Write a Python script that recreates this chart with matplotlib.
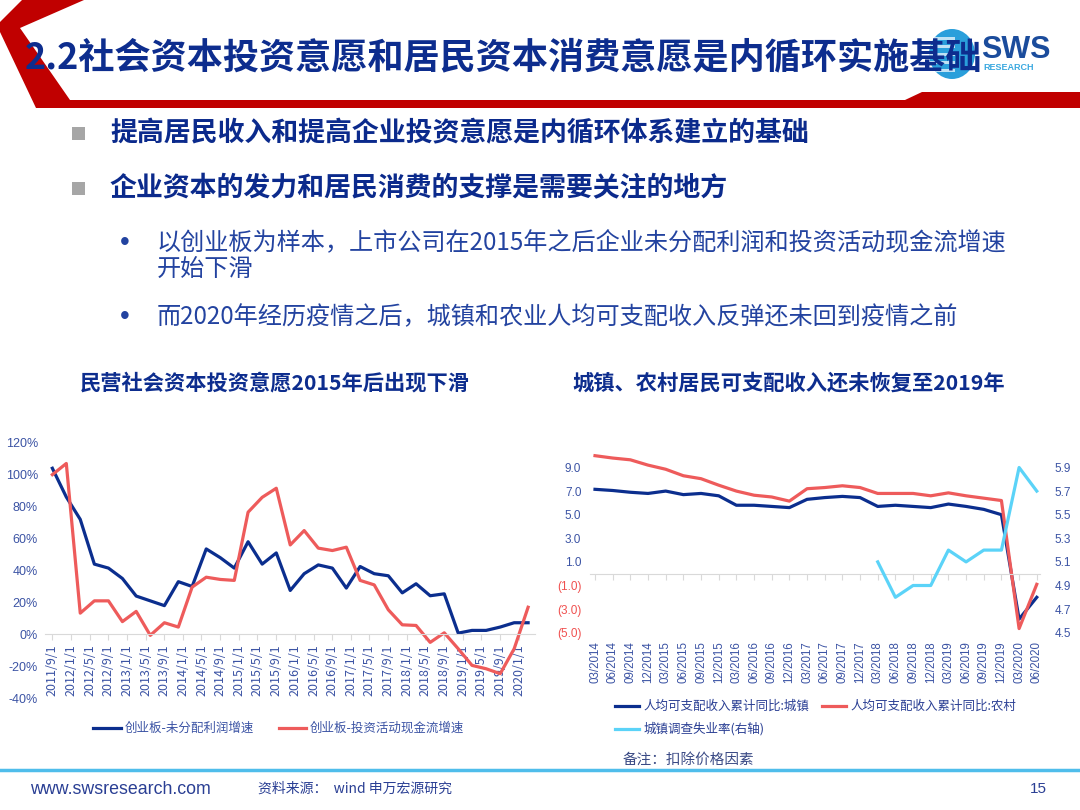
import matplotlib
matplotlib.use('Agg')
import matplotlib.pyplot as plt
from matplotlib.patches import Polygon, Rectangle, Ellipse
from matplotlib.lines import Line2D
import numpy as np
import pandas as pd

CJK = ['Noto Sans CJK SC', 'DejaVu Sans']
LAT = ['Liberation Sans', 'Noto Sans CJK SC', 'DejaVu Sans']
plt.rcParams['font.family'] = CJK

NAVY = '#0B2E8E'
RED = '#EE5B5B'
CYAN = '#5BD3F8'
TXT = '#0D2D8E'
TICK = '#3B53A4'

# ---- data: left chart (创业板, quarterly from 2011/9) ----
gem_profit = [104, 86, 72, 44, 41.5, 35, 24, 21, 18, 33, 30, 53.5, 48, 41.5, 58, 44, 51,
              27.5, 38, 43.5, 41.5, 29, 42.5, 38, 36.7, 26, 31.7, 24.2, 25.4, 0.8, 2.5,
              2.5, 4.6, 7.3, 7.3]
gem_invest = [100, 107, 13.3, 21, 21, 8, 14.4, -0.6, 7.3, 4.6, 29.6, 35.8, 34.4, 33.8, 76.5,
              85.8, 91.5, 56, 65, 54, 52.5, 54.6, 33.8, 31, 15.4, 6, 5.6, -5, 1, -9, -19.4,
              -21.5, -24.6, -9, 17]
gem_dates = pd.date_range('2011-09-01', periods=len(gem_profit), freq='3MS')
gem_ticks = pd.date_range('2011-09-01', '2020-01-01', freq='4MS')
gem_labels = [f'{d.year}/{d.month}/1' for d in gem_ticks]

# ---- data: right chart (居民可支配收入, quarterly) ----
inc_labels = ['03/2014', '06/2014', '09/2014', '12/2014', '03/2015', '06/2015', '09/2015',
              '12/2015', '03/2016', '06/2016', '09/2016', '12/2016', '03/2017', '06/2017',
              '09/2017', '12/2017', '03/2018', '06/2018', '09/2018', '12/2018', '03/2019',
              '06/2019', '09/2019', '12/2019', '03/2020', '06/2020']
urban = [7.15, 7.05, 6.9, 6.8, 7.0, 6.7, 6.8, 6.6, 5.8, 5.8, 5.7, 5.6, 6.3, 6.45, 6.55, 6.45,
         5.7, 5.8, 5.7, 5.6, 5.9, 5.7, 5.45, 5.0, -3.85, -2.0]
rural = [10.0, 9.8, 9.65, 9.2, 8.85, 8.3, 8.05, 7.5, 7.0, 6.65, 6.5, 6.15, 7.2, 7.3, 7.45,
         7.3, 6.8, 6.8, 6.8, 6.6, 6.85, 6.6, 6.4, 6.2, -4.65, -0.9]
unemp = [np.nan] * 16 + [5.1, 4.8, 4.9, 4.9, 5.2, 5.1, 5.2, 5.2, 5.9, 5.7]
left_ticks = [9, 7, 5, 3, 1, -1, -3, -5]
left_tick_labels = ['9.0', '7.0', '5.0', '3.0', '1.0', '(1.0)', '(3.0)', '(5.0)']
right_ticks = [4.5, 4.7, 4.9, 5.1, 5.3, 5.5, 5.7, 5.9]

W, H = 1080, 810


def fx(x):
    return x / W


def fy(y):
    return 1 - y / H


fig = plt.figure(figsize=(10.8, 8.1), dpi=100)

# ---- header ----
hdr = [(22, 0), (84, 0), (20, 28), (70, 100), (905, 100), (922, 92), (1080, 92),
       (1080, 108), (36, 108), (0, 32), (0, 22)]
fig.patches.append(Polygon([(fx(x), fy(y)) for x, y in hdr], closed=True,
                           transform=fig.transFigure, facecolor='#C00000', edgecolor='none'))

globe = Ellipse((fx(952), fy(54)), 46 / W, 50 / H, transform=fig.transFigure,
                facecolor='#2A9FDB', edgecolor='none')
fig.patches.append(globe)
for yy in [38, 46, 54, 62, 70]:
    r = Rectangle((fx(925), fy(yy + 2)), 30 / W, 3 / H, transform=fig.transFigure,
                  facecolor='white', edgecolor='none', alpha=0.7)
    r.set_clip_path(globe)
    fig.patches.append(r)
fig.text(fx(981), fy(50), 'SWS', fontsize=22, fontweight='bold', color='#1B4C9C',
         family=LAT, va='center', ha='left')
fig.text(fx(983), fy(68), 'RESEARCH', fontsize=6.5, fontweight='bold', color='#3BA9E0',
         family=LAT, va='center', ha='left')

fig.text(fx(25), fy(58), '2.2社会资本投资意愿和居民资本消费意愿是内循环实施基础',
         fontsize=26, fontweight='bold', color=TXT, va='center', ha='left', zorder=5)

# ---- bullets ----
for yy, s in [(133, '提高居民收入和提高企业投资意愿是内循环体系建立的基础'),
              (188, '企业资本的发力和居民消费的支撑是需要关注的地方')]:
    fig.patches.append(Rectangle((fx(72), fy(yy + 7)), 13 / W, 13 / H,
                                 transform=fig.transFigure, facecolor='#A6A6A6',
                                 edgecolor='none'))
    fig.text(fx(110), fy(yy), s, fontsize=19.4, fontweight='bold', color='#0B2A8C',
             va='center', ha='left')

SUB = '#2343A0'
fig.text(fx(120), fy(243), '•', fontsize=20, color=SUB, va='center', ha='left', family=LAT)
fig.text(fx(157), fy(243), '以创业板为样本，上市公司在2015年之后企业未分配利润和投资活动现金流增速',
         fontsize=17.4, color=SUB, va='center', ha='left')
fig.text(fx(157), fy(270), '开始下滑', fontsize=17.4, color=SUB, va='center', ha='left')
fig.text(fx(120), fy(317), '•', fontsize=20, color=SUB, va='center', ha='left', family=LAT)
fig.text(fx(157), fy(317), '而2020年经历疫情之后，城镇和农业人均可支配收入反弹还未回到疫情之前',
         fontsize=17.4, color=SUB, va='center', ha='left')

# ---- chart titles ----
fig.text(fx(80), fy(383), '民营社会资本投资意愿2015年后出现下滑', fontsize=15.3,
         fontweight='bold', color=TXT, va='center', ha='left')
fig.text(fx(572), fy(383), '城镇、农村居民可支配收入还未恢复至2019年', fontsize=15.3,
         fontweight='bold', color=TXT, va='center', ha='left')

# ---- left chart ----
ax1 = fig.add_axes([fx(45), fy(698.3), 490 / W, 255.6 / H])
ax1.plot(gem_dates, gem_profit, color=NAVY, lw=2.3, label='创业板-未分配利润增速')
ax1.plot(gem_dates, gem_invest, color=RED, lw=2.3, label='创业板-投资活动现金流增速')
ax1.set_ylim(-40, 120)
ax1.set_yticks(range(-40, 121, 20))
ax1.set_yticklabels([f'{v}%' for v in range(-40, 121, 20)], family=LAT)
ax1.set_xlim(pd.Timestamp('2011-07-15'), pd.Timestamp('2020-04-15'))
ax1.set_xticks(gem_ticks)
ax1.set_xticklabels(gem_labels, family=LAT)
for s in ['left', 'right', 'top']:
    ax1.spines[s].set_visible(False)
ax1.spines['bottom'].set_position(('data', 0))
ax1.spines['bottom'].set_color('#D9D9D9')
ax1.tick_params(axis='y', length=0, pad=5, labelsize=9, labelcolor=TICK)
ax1.tick_params(axis='x', length=4, color='#D9D9D9', pad=3, labelsize=9, labelcolor=TICK,
                labelrotation=90)
ax1.patch.set_alpha(0)

fig.legend(handles=ax1.get_lines(), loc='upper left',
           bbox_to_anchor=(fx(93), fy(722)), ncol=2, frameon=False, fontsize=9,
           handlelength=2.2, handletextpad=0.3, columnspacing=2.0, borderpad=0,
           borderaxespad=0, labelcolor=TICK)

# ---- right chart ----
ax2 = fig.add_axes([fx(589.7), fy(632.7), 450.6 / W, 184.1 / H])
idx = np.arange(len(inc_labels))
l_urb, = ax2.plot(idx, urban, color=NAVY, lw=2.3, label='人均可支配收入累计同比:城镇')
l_rur, = ax2.plot(idx, rural, color=RED, lw=2.3, label='人均可支配收入累计同比:农村')
ax2.set_ylim(-5, 10.6)
ax2.set_xlim(-0.3, 25.2)
ax2.set_yticks(left_ticks)
ax2.set_yticklabels(left_tick_labels, family=LAT)
for t, v in zip(ax2.get_yticklabels(), left_ticks):
    t.set_color('#F0504F' if v < 0 else TICK)
ax2.set_xticks(idx)
ax2.tick_params(axis='x', length=4, color='#D9D9D9', labelbottom=False)
ax2.tick_params(axis='y', length=0, pad=6, labelsize=8.5)
for s in ['left', 'right', 'top']:
    ax2.spines[s].set_visible(False)
ax2.spines['bottom'].set_position(('data', 0))
ax2.spines['bottom'].set_color('#D9D9D9')

sec = ax2.secondary_xaxis('bottom')
sec.set_xticks(idx)
sec.set_xticklabels(inc_labels, family=LAT)
sec.tick_params(length=0, pad=6, labelsize=8.3, labelcolor=TICK, labelrotation=90)
sec.spines['bottom'].set_visible(False)

ax3 = ax2.twinx()
l_une, = ax3.plot(idx, unemp, color=CYAN, lw=2.3, label='城镇调查失业率(右轴)')
ax3.set_ylim(4.5, 6.06)
ax3.set_yticks(right_ticks)
ax3.set_yticklabels([f'{v:.1f}' for v in right_ticks], family=LAT)
ax3.tick_params(axis='y', length=0, pad=10, labelsize=8.5, labelcolor=TICK)
for s in ['left', 'right', 'top', 'bottom']:
    ax3.spines[s].set_visible(False)

fig.legend(handles=[l_urb, l_une, l_rur], loc='upper left',
           bbox_to_anchor=(fx(615), fy(700)), ncol=2, frameon=False, fontsize=9,
           handlelength=1.9, handletextpad=0.4, columnspacing=1.0, labelspacing=0.75,
           borderpad=0, borderaxespad=0, labelcolor='#2A3F94')

fig.text(fx(623), fy(760), '备注：扣除价格因素', fontsize=10.5, color='#3A4A85',
         va='center', ha='left')

# ---- footer ----
fig.lines.append(Line2D([0, 1], [fy(770), fy(770)], transform=fig.transFigure,
                        color='#4FBDEB', lw=2.5))
fig.text(fx(30), fy(789), 'www.swsresearch.com', fontsize=12.8, color='#2A3F94',
         family=LAT, va='center', ha='left')
fig.text(fx(258), fy(789), '资料来源：  wind 申万宏源研究', fontsize=10, color='#2A3F94',
         va='center', ha='left')
fig.text(fx(1030), fy(789), '15', fontsize=11, color='#2A3F94', family=LAT,
         va='center', ha='left')

fig.savefig('out.png', dpi=100)
